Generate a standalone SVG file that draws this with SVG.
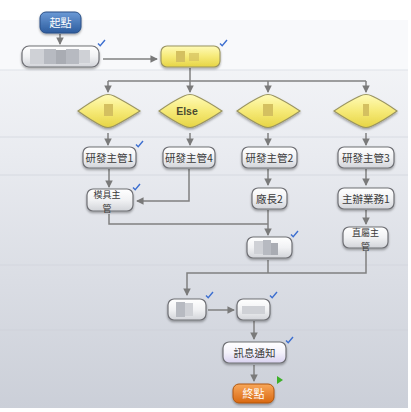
<svg xmlns="http://www.w3.org/2000/svg" width="411" height="412" viewBox="0 0 411 412">
<defs>
<linearGradient id="bg" x1="0" y1="0" x2="0" y2="1">
<stop offset="0" stop-color="#f7f8fa"/>
<stop offset="0.35" stop-color="#e9ebf0"/>
<stop offset="1" stop-color="#cbcfd8"/>
</linearGradient>
<linearGradient id="gWhite" x1="0" y1="0" x2="0" y2="1">
<stop offset="0" stop-color="#ffffff"/>
<stop offset="0.5" stop-color="#f1f2f4"/>
<stop offset="1" stop-color="#d2d4d9"/>
</linearGradient>
<linearGradient id="gYellow" x1="0" y1="0" x2="0" y2="1">
<stop offset="0" stop-color="#fffbb8"/>
<stop offset="0.5" stop-color="#f6ea78"/>
<stop offset="1" stop-color="#e6d444"/>
</linearGradient>
<linearGradient id="gBlue" x1="0" y1="0" x2="0" y2="1">
<stop offset="0" stop-color="#6c9ad6"/>
<stop offset="1" stop-color="#2c5c9e"/>
</linearGradient>
<linearGradient id="gOrange" x1="0" y1="0" x2="0" y2="1">
<stop offset="0" stop-color="#f9a85a"/>
<stop offset="1" stop-color="#d96812"/>
</linearGradient>
<linearGradient id="gLav" x1="0" y1="0" x2="0" y2="1">
<stop offset="0" stop-color="#ffffff"/>
<stop offset="0.5" stop-color="#f4f2fb"/>
<stop offset="1" stop-color="#d9d2f0"/>
</linearGradient>
<filter id="sh" x="-20%" y="-20%" width="140%" height="150%">
<feDropShadow dx="0" dy="1.5" stdDeviation="1" flood-color="#000" flood-opacity="0.35"/>
</filter>
<marker id="ar" viewBox="0 0 8 8" refX="7" refY="4" markerWidth="5" markerHeight="5" orient="auto">
<path d="M0,0 L8,4 L0,8 z" fill="#7a7a7a"/>
</marker>
<path id="chk" d="M0,3.5 L2.2,5.8 L7,0" fill="none" stroke="#3d6fd0" stroke-width="1.4"/>
</defs>
<style>
.box{fill:url(#gWhite);stroke:#6f7075;stroke-width:1.2;filter:url(#sh)}
.yel{fill:url(#gYellow);stroke:#9a9460;stroke-width:1.1;filter:url(#sh)}
.t{font-family:"Noto Sans CJK TC","Liberation Sans",sans-serif;font-size:10.5px;fill:#3a3a3a;text-anchor:middle}
.t2{font-family:"Noto Sans CJK TC","Liberation Sans",sans-serif;font-size:9px;fill:#3a3a3a;text-anchor:middle}
.tw{font-family:"Noto Sans CJK TC","Liberation Sans",sans-serif;font-size:11px;fill:#ffffff;text-anchor:middle}
.c{fill:none;stroke:#808080;stroke-width:1.5}
.m{fill:#b7bac1}
.m2{fill:#a9acb3}
.m3{fill:#cfd1d6}
.my{fill:#d4c060}
</style>
<rect x="0" y="0" width="411" height="412" fill="#ffffff"/>
<rect x="0" y="20" width="408" height="388" fill="url(#bg)"/>
<rect x="0" y="20" width="408" height="50" fill="#f8f9fb"/>
<line x1="0" y1="70" x2="408" y2="70" stroke="#dfe2e8" stroke-width="1"/>
<line x1="0" y1="137" x2="408" y2="137" stroke="#d8dbe2" stroke-width="1"/>
<line x1="0" y1="175" x2="408" y2="175" stroke="#d6d9e0" stroke-width="1"/>
<line x1="0" y1="265" x2="408" y2="265" stroke="#d3d6de" stroke-width="1"/>
<line x1="0" y1="330" x2="408" y2="330" stroke="#cfd2da" stroke-width="1"/>

<g id="connectors">
<line class="c" x1="60" y1="34" x2="60" y2="44" marker-end="url(#ar)"/>
<line class="c" x1="103" y1="59" x2="157" y2="59" marker-end="url(#ar)"/>
<polyline class="c" points="190,68 190,81"/>
<polyline class="c" points="108,81 366,81"/>
<line class="c" x1="108" y1="81" x2="108" y2="92" marker-end="url(#ar)"/>
<line class="c" x1="190" y1="81" x2="190" y2="92" marker-end="url(#ar)"/>
<line class="c" x1="268" y1="81" x2="268" y2="92" marker-end="url(#ar)"/>
<line class="c" x1="366" y1="81" x2="366" y2="92" marker-end="url(#ar)"/>
<line class="c" x1="108" y1="133" x2="108" y2="145" marker-end="url(#ar)"/>
<line class="c" x1="190" y1="133" x2="190" y2="145" marker-end="url(#ar)"/>
<line class="c" x1="268" y1="133" x2="268" y2="145" marker-end="url(#ar)"/>
<line class="c" x1="366" y1="133" x2="366" y2="145" marker-end="url(#ar)"/>
<line class="c" x1="109" y1="169" x2="109" y2="187" marker-end="url(#ar)"/>
<polyline class="c" points="189,169 189,201 137,201" marker-end="url(#ar)"/>
<line class="c" x1="268" y1="169" x2="268" y2="185" marker-end="url(#ar)"/>
<line class="c" x1="366" y1="169" x2="366" y2="185" marker-end="url(#ar)"/>
<line class="c" x1="366" y1="210" x2="366" y2="224" marker-end="url(#ar)"/>
<polyline class="c" points="109,214 109,224 268,224"/>
<line class="c" x1="268" y1="210" x2="268" y2="235" marker-end="url(#ar)"/>
<polyline class="c" points="268,260 268,273"/>
<polyline class="c" points="366,251 366,273 187,273 187,295" marker-end="url(#ar)"/>
<line class="c" x1="208" y1="310" x2="234" y2="310" marker-end="url(#ar)"/>
<line class="c" x1="254" y1="321" x2="254" y2="339" marker-end="url(#ar)"/>
<line class="c" x1="254" y1="365" x2="254" y2="381" marker-end="url(#ar)"/>
</g>

<g id="start">
<rect x="40" y="12" width="41" height="21" rx="6" fill="url(#gBlue)" stroke="#2a4f86" stroke-width="1" filter="url(#sh)"/>
<text class="tw" x="60.5" y="26.5">起點</text>
</g>

<g id="nodeA">
<rect class="box" x="22" y="46" width="77" height="21" rx="7"/>
<rect class="m3" x="30" y="49" width="14" height="15"/>
<rect class="m" x="44" y="49" width="12" height="15"/>
<rect class="m2" x="56" y="50" width="10" height="14"/>
<rect class="m" x="66" y="49" width="13" height="15"/>
<rect class="m3" x="79" y="50" width="11" height="13"/>
<use href="#chk" x="98" y="40"/>
</g>

<g id="nodeB">
<rect class="yel" x="161" y="46" width="59" height="21" rx="6"/>
<rect class="my" x="176" y="51" width="9" height="11"/>
<rect class="my" x="189" y="53" width="10" height="8" opacity="0.7"/>
<use href="#chk" x="220" y="40"/>
</g>

<g id="dec1">
<path class="yel" d="M78,111 Q92,101 102,96 Q108,93 114,96 Q124,101 140,111 Q124,121 114,126 Q108,129 102,126 Q92,121 78,111 Z"/>
<rect class="my" x="104" y="104" width="9" height="12"/>
</g>
<g id="dec2">
<path class="yel" d="M159,111 Q173,101 184,96 Q190,93 196,96 Q207,101 222,111 Q207,121 196,126 Q190,129 184,126 Q173,121 159,111 Z"/>
<text x="187" y="115" font-family="'Liberation Sans',sans-serif" font-size="10.5" font-weight="bold" fill="#4a4a30" text-anchor="middle">Else</text>
</g>
<g id="dec3">
<path class="yel" d="M237,111 Q251,101 262,96 Q268,93 274,96 Q285,101 300,111 Q285,121 274,126 Q268,129 262,126 Q251,121 237,111 Z"/>
<rect class="my" x="263" y="104" width="10" height="12"/>
</g>
<g id="dec4">
<path class="yel" d="M334,111 Q349,101 360,96 Q366,93 372,96 Q383,101 397,111 Q383,121 372,126 Q366,129 360,126 Q349,121 334,111 Z"/>
<rect class="my" x="363" y="104" width="6" height="12"/>
</g>

<g id="rd1">
<rect class="box" x="83" y="147" width="53" height="21" rx="6"/>
<text class="t" x="109.5" y="161.5">研發主管1</text>
<use href="#chk" x="136" y="141"/>
</g>
<g id="rd4">
<rect class="box" x="163" y="147" width="52" height="21" rx="6"/>
<text class="t" x="189" y="161.5">研發主管4</text>
</g>
<g id="rd2">
<rect class="box" x="242" y="147" width="55" height="21" rx="6"/>
<text class="t" x="269.5" y="161.5">研發主管2</text>
</g>
<g id="rd3">
<rect class="box" x="338" y="147" width="56" height="21" rx="6"/>
<text class="t" x="366" y="161.5">研發主管3</text>
</g>

<g id="mold">
<rect class="box" x="87" y="189" width="46" height="22" rx="6"/>
<text class="t2"><tspan x="107" y="198">模具主</tspan><tspan x="107" y="211.5">管</tspan></text>
<use href="#chk" x="133" y="184"/>
</g>
<g id="plant2">
<rect class="box" x="252" y="188" width="35" height="21" rx="6"/>
<text class="t" x="269.5" y="202.5">廠長2</text>
</g>
<g id="sales1">
<rect class="box" x="338" y="188" width="56" height="21" rx="6"/>
<text class="t" x="366" y="202.5">主辦業務1</text>
</g>
<g id="direct">
<rect class="box" x="343" y="227" width="45" height="21" rx="6"/>
<text class="t2"><tspan x="365.5" y="236">直屬主</tspan><tspan x="365.5" y="249.5">管</tspan></text>
</g>

<g id="nodeC">
<rect class="box" x="247" y="237" width="45" height="21" rx="6"/>
<rect class="m3" x="254" y="241" width="9" height="13"/>
<rect class="m" x="263" y="240" width="8" height="15"/>
<rect class="m2" x="271" y="243" width="7" height="12"/>
<use href="#chk" x="291" y="231"/>
</g>

<g id="nodeD">
<rect class="box" x="168" y="299" width="38" height="21" rx="6"/>
<rect class="m" x="176" y="302" width="9" height="15"/>
<rect class="m3" x="185" y="303" width="8" height="13"/>
<use href="#chk" x="206" y="292"/>
</g>
<g id="nodeE">
<rect class="box" x="237" y="299" width="33" height="21" rx="6"/>
<rect class="m3" x="242" y="306" width="23" height="8"/>
<use href="#chk" x="270" y="292"/>
</g>

<g id="notify">
<rect x="223" y="342" width="63" height="21" rx="6" fill="url(#gLav)" stroke="#6f7075" stroke-width="1.2" filter="url(#sh)"/>
<text class="t" x="254.5" y="356.5" fill="#4a4a6a">訊息通知</text>
<use href="#chk" x="286" y="337"/>
</g>

<g id="end">
<rect x="233" y="384" width="41" height="19" rx="6" fill="url(#gOrange)" stroke="#b0560e" stroke-width="1" filter="url(#sh)"/>
<text class="tw" x="253.5" y="397.5">終點</text>
<path d="M277,376 L283,380 L277,384 Z" fill="#3cb028"/>
</g>
</svg>
